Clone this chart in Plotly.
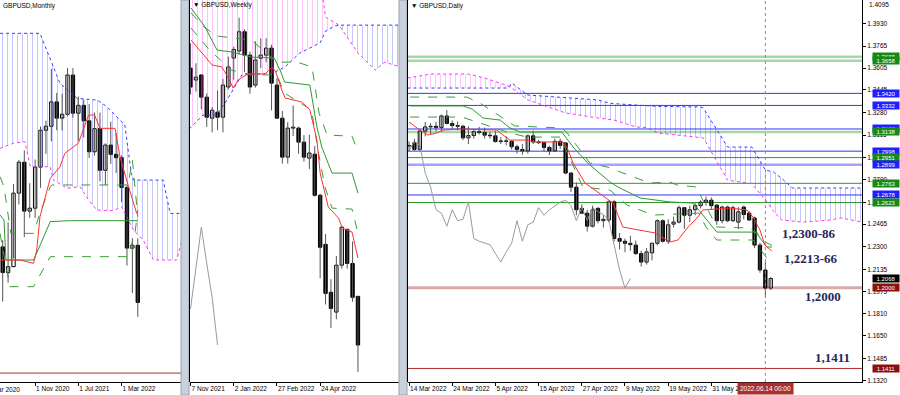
import plotly.graph_objects as go

# ================= DATA =================
# ---- Monthly (bar 0 = May 2020 ... bar 25 = Jun 2022)
m_open  = [1.2585,1.2346,1.2401,1.3085,1.3373,1.2918,1.2945,1.3327,1.3670,1.3707,1.3934,1.3783,1.3819,1.4184,1.3829,1.3902,1.3758,1.3470,1.3685,1.3298,1.3532,1.3446,1.3415,1.3138,1.2574,1.2600]
m_high  = [1.2648,1.2813,1.3169,1.3395,1.3482,1.3177,1.3398,1.3705,1.3759,1.4241,1.4017,1.4009,1.4250,1.4249,1.3984,1.3958,1.3913,1.3834,1.3834,1.3549,1.3749,1.3643,1.3437,1.3167,1.2666,1.2666]
m_low   = [1.2076,1.2252,1.2479,1.2980,1.2676,1.2855,1.2854,1.3135,1.3451,1.3567,1.3670,1.3669,1.3800,1.3787,1.3572,1.3602,1.3412,1.3434,1.3194,1.3160,1.3358,1.3273,1.3000,1.2411,1.2155,1.1934]
m_close = [1.2346,1.2401,1.3085,1.3373,1.2918,1.2945,1.3327,1.3670,1.3707,1.3934,1.3783,1.3819,1.4184,1.3829,1.3902,1.3758,1.3470,1.3685,1.3298,1.3532,1.3446,1.3415,1.3138,1.2574,1.2600,1.2068]
m_tick_pos  = [6, 14, 22]
m_tick_text = ["1 Nov 2020", "1 Jul 2021", "1 Mar 2022"]
m_tenkan_x = [-0.5,3.2,5.7,6.3,6.9,8.8,10.6,11.5,14.0,15.9,17.0,18.0,20.8,21.7,23.3,24.8]
m_tenkan_y = [1.2463,1.2463,1.2432,1.2556,1.2866,1.3223,1.3331,1.3456,1.3549,1.3812,1.3812,1.3688,1.3688,1.3424,1.3145,1.2897]
m_kijun_x = [-0.5,0.24,0.6,5.7,6.3,8.8,12.5,25.0]
m_kijun_y = [1.2882,1.2835,1.2463,1.2463,1.2528,1.2820,1.2829,1.2829]
m_dash1_x = [-0.5,0.24,1.5,5.7,6.9,8.8,9.1,23.2,24.0,25.0]
m_dash1_y = [1.3238,1.3145,1.2711,1.2711,1.2900,1.3145,1.3161,1.3161,1.3393,1.2866]
m_dash2_x = [-0.5,1.3,5.7,8.8,23.2,24.5,25.0]
m_dash2_y = [1.2711,1.2215,1.2215,1.2494,1.2494,1.2720,1.2928]
m_spanA_x = [-0.5,6.9,10.6,13.8,17.5,19.3,20.8,22.6,23.8,24.2,29.7,31.0,33.5]
m_spanA_y = [1.4572,1.4572,1.4107,1.3967,1.3951,1.3889,1.3812,1.3719,1.3270,1.3207,1.3207,1.2897,1.2897]
m_spanB_x = [-0.5,2.0,4.1,5.1,8.8,9.4,11.9,14.3,15.9,17.4,20.5,22.0,24.2,26.0,27.9,32.2,33.5]
m_spanB_y = [1.3502,1.3549,1.3564,1.3331,1.3331,1.3207,1.3130,1.3145,1.3021,1.2928,1.2922,1.2959,1.2742,1.2649,1.2463,1.2463,1.2711]
m_level = [1.1411]

# ---- Weekly (bar 0 = week of 7 Nov 2021 ... bar 31 = week of 12 Jun 2022)
w_open  = [1.3490,1.3429,1.3455,1.3341,1.3233,1.3264,1.3238,1.3393,1.3542,1.3578,1.3677,1.3557,1.3403,1.3541,1.3557,1.3593,1.3403,1.3233,1.3033,1.3182,1.3182,1.3110,1.3028,1.3048,1.2837,1.2585,1.2339,1.2237,1.2478,1.2662,1.2487,1.2318]
w_high  = [1.3617,1.3515,1.3460,1.3360,1.3290,1.3375,1.3435,1.3549,1.3600,1.3749,1.3690,1.3575,1.3628,1.3643,1.3644,1.3610,1.3438,1.3270,1.3212,1.3298,1.3190,1.3146,1.3148,1.3090,1.2845,1.2638,1.2406,1.2525,1.2680,1.2666,1.2600,1.2320]
w_low   = [1.3354,1.3370,1.3278,1.3188,1.3160,1.3172,1.3160,1.3380,1.3430,1.3560,1.3470,1.3358,1.3390,1.3490,1.3520,1.3273,1.3230,1.3000,1.3000,1.3141,1.3050,1.3010,1.2972,1.2830,1.2411,1.2276,1.2155,1.2200,1.2460,1.2460,1.2290,1.1930]
w_close = [1.3393,1.3444,1.3341,1.3238,1.3274,1.3238,1.3403,1.3496,1.3586,1.3677,1.3557,1.3393,1.3532,1.3557,1.3593,1.3413,1.3233,1.3033,1.3182,1.3187,1.3110,1.3033,1.3054,1.2837,1.2570,1.2333,1.2256,1.2478,1.2673,1.2487,1.2313,1.2068]
w_tick_pos  = [0, 8, 16, 24]
w_tick_text = ["7 Nov 2021", "2 Jan 2022", "27 Feb 2022", "24 Apr 2022"]
w_tenkan_x = [0.1,4.0,5.8,6.9,7.9,8.8,10.6,13.8,15.1,15.8,16.9,17.5,20.6,22.1,23.4,24.0,25.5,27.4,28.1,29.9,31.0]
w_tenkan_y = [1.3634,1.3506,1.3496,1.3444,1.3388,1.3429,1.3460,1.3460,1.3496,1.3470,1.3378,1.3337,1.3316,1.3275,1.3121,1.2951,1.2777,1.2720,1.2669,1.2648,1.2515]
w_kijun_x = [0.1,2.7,4.9,7.6,11.3,15.5,16.8,17.4,22.1,23.4,24.3,26.2,29.9,31.0]
w_kijun_y = [1.3799,1.3701,1.3583,1.3573,1.3547,1.3542,1.3465,1.3419,1.3403,1.3188,1.3085,1.2951,1.2951,1.2848]
w_dash1_x = [0.1,2.7,4.9,11.3,15.9,19.7,22.5,23.8,25.3,29.9,31.0]
w_dash1_y = [1.3773,1.3696,1.3655,1.3634,1.3521,1.3521,1.3496,1.3259,1.3146,1.3141,1.3059]
w_dash2_x = [0.1,3.5,7.6,11.3,16.0,17.4,22.4,23.6,24.9,26.2,29.9,31.0]
w_dash2_y = [1.3696,1.3583,1.3480,1.3455,1.3455,1.3362,1.3275,1.3069,1.2879,1.2771,1.2766,1.2643]
w_spanA_x = [-1,2.3,4.8,6.4,9.5,15.3,17.5,19.7,20.2,24.0,25.0,26.6,27.5,31.0,34.2,36.0,38.8]
w_spanA_y = [1.3156,1.3249,1.3249,1.3310,1.3455,1.3465,1.3496,1.3557,1.3567,1.3620,1.3680,1.3705,1.3711,1.3711,1.3711,1.3711,1.3711]
w_spanB_x = [-1,2.3,4.8,6.4,9.5,15.3,17.5,19.7,20.2,24.0,25.0,26.6,27.5,31.0,34.2,36.0,38.8]
w_spanB_y = [1.3950,1.3950,1.3950,1.3950,1.3950,1.3950,1.3950,1.3950,1.3950,1.3950,1.3752,1.3725,1.3711,1.3567,1.3480,1.3521,1.3496]
w_cross = 27.5

# ---- Daily (bar 0 = 14 Mar 2022 ... bar 67 = 15 Jun 2022)
d_open  = [1.3035,1.3060,1.3010,1.3145,1.3175,1.3180,1.3170,1.3255,1.3200,1.3185,1.3180,1.3095,1.3112,1.3140,1.3135,1.3115,1.3110,1.3068,1.3073,1.3070,
           1.3030,1.3010,1.3000,1.3110,1.3065,1.3060,1.3025,1.3000,1.3070,1.3058,1.2838,1.2735,1.2580,1.2545,1.2450,1.2580,1.2490,1.2495,1.2628,1.2360,
           1.2340,1.2325,1.2312,1.2250,1.2188,1.2255,1.2325,1.2490,1.2340,1.2465,1.2480,1.2585,1.2530,1.2570,1.2600,1.2625,1.2640,1.2604,1.2490,1.2590,
           1.2490,1.2480,1.2590,1.2546,1.2510,1.2312,1.2130,1.1998]
d_high  = [1.3070,1.3090,1.3160,1.3212,1.3202,1.3212,1.3264,1.3298,1.3222,1.3215,1.3190,1.3180,1.3160,1.3175,1.3170,1.3140,1.3146,1.3100,1.3107,1.3080,
           1.3045,1.3050,1.3120,1.3148,1.3080,1.3070,1.3038,1.3090,1.3090,1.3065,1.2845,1.2770,1.2610,1.2570,1.2600,1.2590,1.2530,1.2638,1.2640,1.2400,
           1.2360,1.2380,1.2345,1.2270,1.2290,1.2330,1.2500,1.2500,1.2500,1.2520,1.2600,1.2590,1.2600,1.2620,1.2640,1.2666,1.2660,1.2610,1.2600,1.2600,
           1.2600,1.2590,1.2600,1.2560,1.2520,1.2330,1.2188,1.2080]
d_low   = [1.3000,1.3000,1.3000,1.3106,1.3123,1.3141,1.3142,1.3193,1.3160,1.3150,1.3080,1.3050,1.3090,1.3120,1.3090,1.3090,1.3060,1.3050,1.3040,1.3010,
           1.2980,1.2972,1.2980,1.3050,1.3050,1.2995,1.2970,1.2995,1.3015,1.2830,1.2700,1.2530,1.2540,1.2411,1.2440,1.2470,1.2440,1.2480,1.2340,1.2280,
           1.2260,1.2270,1.2240,1.2155,1.2170,1.2200,1.2310,1.2330,1.2320,1.2440,1.2470,1.2430,1.2480,1.2530,1.2580,1.2600,1.2570,1.2460,1.2470,1.2480,
           1.2480,1.2430,1.2500,1.2490,1.2290,1.2110,1.1933,1.1985]
d_close = [1.3040,1.3010,1.3145,1.3175,1.3180,1.3170,1.3255,1.3200,1.3185,1.3180,1.3095,1.3112,1.3140,1.3135,1.3115,1.3110,1.3068,1.3073,1.3070,1.3030,
           1.3010,1.3000,1.3110,1.3065,1.3060,1.3025,1.3000,1.3070,1.3040,1.2838,1.2735,1.2570,1.2545,1.2450,1.2570,1.2490,1.2500,1.2628,1.2360,1.2340,
           1.2325,1.2315,1.2250,1.2188,1.2262,1.2325,1.2490,1.2340,1.2460,1.2480,1.2585,1.2530,1.2570,1.2600,1.2625,1.2640,1.2600,1.2490,1.2590,1.2490,
           1.2585,1.2555,1.2535,1.2495,1.2312,1.2130,1.1998,1.2068]
d_tick_pos  = [0, 8, 16, 24, 32, 40, 48, 56]
d_tick_text = ["14 Mar 2022","24 Mar 2022","5 Apr 2022","15 Apr 2022","27 Apr 2022","9 May 2022","19 May 2022","31 May 2022"]
d_tenkan_x = [0,2.0,3.5,5.2,6.3,9.8,16.3,16.9,18.7,22.0,23.3,28.5,29.3,30.4,32.6,37.2,37.8,39.6,45.6,48.3,49.8,51.7,53.5,54.4,59.4,62.6,63.7,65.0,65.9,67.2]
d_tenkan_y = [1.3211,1.3152,1.3116,1.3131,1.3152,1.3160,1.3152,1.3131,1.3079,1.3079,1.3065,1.3065,1.3021,1.2911,1.2765,1.2641,1.2619,1.2444,1.2400,1.2334,1.2349,1.2444,1.2517,1.2568,1.2583,1.2568,1.2517,1.2422,1.2312,1.2269]
d_kijun_x = [0.2,10.0,11.7,13.7,16.9,18.7,20.6,28.3,30.4,33.1,37.2,38.7,42.8,48.3,52.6,55.2,57.0,64.4,65.0,66.3,67.2]
d_kijun_y = [1.3328,1.3328,1.3306,1.3240,1.3225,1.3167,1.3138,1.3138,1.3028,1.2911,1.2773,1.2736,1.2656,1.2627,1.2619,1.2495,1.2407,1.2407,1.2364,1.2298,1.2298]
d_dash1_x = [0.2,10.7,13.1,18.1,19.6,28.3,29.3,33.5,36.7,44.6,48.3,49.6,53.3,54.4,57.0,63.1,66.3,67.2]
d_dash1_y = [1.3393,1.3393,1.3350,1.3225,1.3182,1.3167,1.3131,1.2911,1.2882,1.2765,1.2773,1.2751,1.2736,1.2641,1.2444,1.2437,1.2327,1.2310]
d_dash2_x = [0.2,9.8,13.1,18.7,21.9,28.0,32.2,37.2,40.4,45.2,53.7,55.0,57.0,63.7,66.3,67.2]
d_dash2_y = [1.3247,1.3247,1.3204,1.3131,1.3101,1.3101,1.2736,1.2714,1.2604,1.2531,1.2546,1.2444,1.2349,1.2349,1.2217,1.2200]
d_spanA_x = [-0.3,18.0,18.6,19.0,22.0,29.0,35.0,37.0,38.0,42.0,44.0,46.0,54.0,54.5,59.0,63.5,66.0,67.5,69.0,71.0,73.0,78.0,80.0,84.0]
d_spanA_y = [1.3459,1.3459,1.3470,1.3496,1.3408,1.3390,1.3372,1.3350,1.3345,1.3335,1.3328,1.3325,1.3321,1.3313,1.3028,1.3028,1.2860,1.2846,1.2800,1.2729,1.2729,1.2729,1.2729,1.2729]
d_spanB_x = [-0.3,4.0,11.0,14.0,18.0,18.6,19.0,22.0,29.0,35.0,37.0,38.0,42.0,44.0,46.0,54.0,54.5,59.0,63.5,66.0,67.5,69.0,71.0,73.0,78.0,80.0,84.0]
d_spanB_y = [1.3532,1.3561,1.3561,1.3532,1.3480,1.3470,1.3459,1.3372,1.3277,1.3240,1.3230,1.3225,1.3175,1.3170,1.3131,1.3102,1.3095,1.2787,1.2760,1.2642,1.2560,1.2495,1.2488,1.2480,1.2495,1.2510,1.2480]
d_cross = 18.6
d_cursor = 66
d_price_ticks = [1.4095,1.3930,1.3765,1.3605,1.3445,1.3280,1.3115,1.2950,1.2790,1.2625,1.2465,1.2300,1.2135,1.1975,1.1810,1.1650,1.1485,1.1320]
d_levels      = [1.3688,1.3658,1.3420,1.3332,1.3160,1.3138,1.2998,1.2951,1.2899,1.2763,1.2678,1.2623,1.2068,1.2000,1.1411]
d_level_kind  = ["g2","g2","b","b","b","g2","b","g","b2","g","b","g","k","r2","r"]
zone_labels = ["1,2300-86", "1,2213-66", "1,2000", "1,1411"]
zone_y      = [1.2400, 1.2211, 1.1933, 1.1494]

# ================= STYLE =================
FONT = "Liberation Sans"
FS = 6.5
line_style = {"g": ("#2e9a2e", 1), "g2": ("#a7d6a7", 2.5), "b": ("#3434ff", 1), "b2": ("#a3a3ff", 2.5),
              "r": ("#b02a2a", 1), "r2": ("#d9aaaa", 3)}
box_color = {"g": "#168a16", "g2": "#168a16", "b": "#1f1fff", "b2": "#1f1fff", "k": "#000000",
             "r": "#8b1111", "r2": "#8b1111"}

fig = go.Figure()

def add_cloud(ax, ay, ax_x, ay_y, bx_x, by_y, cross):
    segs = []
    if cross is None:
        segs.append((ax_x, ay_y, bx_x, by_y, "a"))
    else:
        a1 = [(x, y) for x, y in zip(ax_x, ay_y) if x <= cross]
        b1 = [(x, y) for x, y in zip(bx_x, by_y) if x <= cross]
        a2 = [(x, y) for x, y in zip(ax_x, ay_y) if x >= cross]
        b2 = [(x, y) for x, y in zip(bx_x, by_y) if x >= cross]
        segs.append(([p[0] for p in a1], [p[1] for p in a1], [p[0] for p in b1], [p[1] for p in b1], "b"))
        segs.append(([p[0] for p in a2], [p[1] for p in a2], [p[0] for p in b2], [p[1] for p in b2], "a"))
    for xa, ya, xb, yb, top in segs:
        col = "rgba(60,60,255,0.6)" if top == "a" else "rgba(255,50,255,0.6)"
        fig.add_trace(go.Scatter(x=xa, y=ya, mode="lines", line=dict(width=0), xaxis=ax, yaxis=ay,
                                 hoverinfo="skip", showlegend=False))
        fig.add_trace(go.Scatter(x=xb, y=yb, mode="lines", line=dict(width=0), fill="tonexty",
                                 fillcolor="rgba(0,0,0,0)",
                                 fillpattern=dict(shape="|", fgcolor=col, size=5, solidity=0.2),
                                 xaxis=ax, yaxis=ay, hoverinfo="skip", showlegend=False))
    fig.add_trace(go.Scatter(x=ax_x, y=ay_y, mode="lines", line=dict(color="#3a3aff", width=1, dash="dot"),
                             xaxis=ax, yaxis=ay, hoverinfo="skip", showlegend=False))
    fig.add_trace(go.Scatter(x=bx_x, y=by_y, mode="lines", line=dict(color="#ff30ff", width=1, dash="dot"),
                             xaxis=ax, yaxis=ay, hoverinfo="skip", showlegend=False))

def add_line(ax, ay, xs, ys, color, dash="solid", width=1):
    fig.add_trace(go.Scatter(x=xs, y=ys, mode="lines", line=dict(color=color, width=width, dash=dash),
                             xaxis=ax, yaxis=ay, hoverinfo="skip", showlegend=False))

def add_candles(ax, ay, o, h, l, c, width=0.6):
    n = len(o)
    wx, wy = [], []
    for i in range(n):
        wx += [i, i, None]
        wy += [l[i], h[i], None]
    fig.add_trace(go.Scatter(x=wx, y=wy, mode="lines", line=dict(color="#555555", width=1),
                             xaxis=ax, yaxis=ay, hoverinfo="skip", showlegend=False))
    base = [min(a, b) for a, b in zip(o, c)]
    hgt = [max(abs(b - a), 0.00001) for a, b in zip(o, c)]
    cols = ["#ffffff" if b >= a else "#000000" for a, b in zip(o, c)]
    fig.add_trace(go.Bar(x=list(range(n)), y=hgt, base=base, width=width,
                         marker=dict(color=cols, line=dict(color="#000000", width=1)),
                         xaxis=ax, yaxis=ay, hoverinfo="skip", showlegend=False))

def add_chikou(ax, ay, c, shift=26):
    xs = [i - shift for i in range(len(c))]
    add_line(ax, ay, xs, c, "#9a9a9a")

# ---- Monthly
add_cloud("x", "y", m_spanA_x, m_spanA_y, m_spanB_x, m_spanB_y, None)
add_candles("x", "y", m_open, m_high, m_low, m_close, 0.62)
add_line("x", "y", m_dash1_x, m_dash1_y, "#3c9c3c", "dash")
add_line("x", "y", m_dash2_x, m_dash2_y, "#3c9c3c", "dash")
add_line("x", "y", m_kijun_x, m_kijun_y, "#2e9a2e")
add_line("x", "y", m_tenkan_x, m_tenkan_y, "#ff3030")
add_chikou("x", "y", m_close)

# ---- Weekly
add_cloud("x2", "y2", w_spanA_x, w_spanA_y, w_spanB_x, w_spanB_y, w_cross)
add_candles("x2", "y2", w_open, w_high, w_low, w_close, 0.62)
add_line("x2", "y2", w_dash1_x, w_dash1_y, "#3c9c3c", "dash")
add_line("x2", "y2", w_dash2_x, w_dash2_y, "#3c9c3c", "dash")
add_line("x2", "y2", w_kijun_x, w_kijun_y, "#2e9a2e")
add_line("x2", "y2", w_tenkan_x, w_tenkan_y, "#ff3030")
add_chikou("x2", "y2", w_close)

# ---- Daily
add_cloud("x3", "y3", d_spanA_x, d_spanA_y, d_spanB_x, d_spanB_y, d_cross)
add_chikou("x3", "y3", d_close)
add_candles("x3", "y3", d_open, d_high, d_low, d_close, 0.6)
add_line("x3", "y3", d_dash1_x, d_dash1_y, "#3c9c3c", "dash")
add_line("x3", "y3", d_dash2_x, d_dash2_y, "#3c9c3c", "dash")
add_line("x3", "y3", d_kijun_x, d_kijun_y, "#2e9a2e")
add_line("x3", "y3", d_tenkan_x, d_tenkan_y, "#ff3030")

shapes = []
annotations = []

for v in m_level:
    shapes.append(dict(type="line", xref="x domain", x0=0, x1=1, yref="y", y0=v, y1=v,
                       line=dict(color="#b02a2a", width=1), layer="below"))
for v, k in zip(d_levels, d_level_kind):
    if k in line_style:
        col, w = line_style[k]
        shapes.append(dict(type="line", xref="x3 domain", x0=0, x1=1, yref="y3", y0=v, y1=v,
                           line=dict(color=col, width=w), layer="below"))
    annotations.append(dict(xref="paper", x=872 / 900, xanchor="left", yref="y3", y=v, yanchor="middle",
                            text=f"{v:.4f}", showarrow=False, bgcolor=box_color[k], width=26, height=7,
                            borderpad=0, font=dict(family=FONT, size=6, color="#ffffff")))

shapes.append(dict(type="line", xref="x3", x0=d_cursor, x1=d_cursor, yref="y3 domain", y0=0, y1=1,
                   line=dict(color="#e06a6a", width=1, dash="dot")))

for x0, x1 in [(181, 189), (399, 407)]:
    shapes.append(dict(type="rect", xref="paper", x0=x0 / 900, x1=x1 / 900, yref="paper", y0=-13 / 382, y1=1,
                       fillcolor="#c9d1dd", line=dict(color="#97a1b1", width=1)))
for xp in [189.5, 407.5]:
    shapes.append(dict(type="line", xref="paper", x0=xp / 900, x1=xp / 900, yref="paper", y0=0, y1=1,
                       line=dict(color="#000000", width=1)))

zone_x = [809, 811, 823, 832]
for t, yv, xp in zip(zone_labels, zone_y, zone_x):
    annotations.append(dict(xref="paper", x=xp / 900, xanchor="center", yref="y3", y=yv, yanchor="middle",
                            text=f"<b>{t}</b>", showarrow=False,
                            font=dict(family="Liberation Serif", size=13, color="#27275a")))

annotations.append(dict(xref="paper", x=1 / 900, y=1, yref="paper", xanchor="left", yanchor="top", yshift=0,
                        text="GBPUSD,Monthly", showarrow=False, font=dict(family=FONT, size=FS, color="#000")))
annotations.append(dict(xref="paper", x=191 / 900, y=1, yref="paper", xanchor="left", yanchor="top", yshift=1,
                        text="▼ GBPUSD,Weekly", showarrow=False, font=dict(family=FONT, size=FS, color="#000")))
annotations.append(dict(xref="paper", x=409 / 900, y=1, yref="paper", xanchor="left", yanchor="top", yshift=0,
                        text="▼ GBPUSD,Daily", showarrow=False, font=dict(family=FONT, size=FS, color="#000")))

annotations.append(dict(xref="paper", x=22 / 900, xanchor="right", yref="paper", y=0, yanchor="top", yshift=-2,
                        text="1 Mar 2020", showarrow=False, font=dict(family=FONT, size=FS, color="#000")))
annotations.append(dict(xref="x3", x=d_cursor, xanchor="center", yref="paper", y=0, yanchor="top", yshift=0,
                        text="2022.06.14 00:00", showarrow=False, bgcolor="#a83030", borderpad=2,
                        font=dict(family=FONT, size=FS, color="#ffffff")))
# topmost price label (partly above the frame in the original)
annotations.append(dict(xref="paper", x=867 / 900, xanchor="left", yref="paper", y=1, yanchor="top", yshift=1,
                        text="1.4095", showarrow=False, font=dict(family=FONT, size=FS, color="#000")))

xcommon = dict(showgrid=False, zeroline=False, showline=True, linecolor="#000000", linewidth=1,
               ticks="outside", ticklen=3, tickcolor="#000000", ticklabelposition="outside right",
               tickangle=0, automargin=False,
               tickfont=dict(family=FONT, size=FS, color="#000000"), fixedrange=True)
ycommon = dict(showgrid=False, zeroline=False, showticklabels=False, ticks="", showline=False,
               automargin=False, fixedrange=True)

fig.update_layout(
    width=900, height=395, margin=dict(l=0, r=0, t=0, b=13, autoexpand=False),
    paper_bgcolor="#ffffff", plot_bgcolor="#ffffff", showlegend=False, barmode="overlay",
    xaxis=dict(domain=[0, 181 / 900], range=[-0.5, 33.0], anchor="y",
               tickvals=m_tick_pos, ticktext=m_tick_text, **xcommon),
    yaxis=dict(domain=[0, 1], range=[1.1328, 1.4882], anchor="x", **ycommon),
    xaxis2=dict(domain=[190 / 900, 399 / 900], range=[-0.1, 38.6], anchor="y2",
                tickvals=w_tick_pos, ticktext=w_tick_text, **xcommon),
    yaxis2=dict(domain=[0, 1], range=[1.1878, 1.3840], anchor="x2", **ycommon),
    xaxis3=dict(domain=[408 / 900, 862 / 900], range=[-0.19, 83.9], anchor="y3",
                tickvals=d_tick_pos, ticktext=d_tick_text, **xcommon),
    yaxis3=dict(domain=[0, 1], range=[1.1312, 1.4102], anchor="x3", side="right",
                showgrid=False, zeroline=False, showline=True, linecolor="#000000", linewidth=1,
                ticks="outside", ticklen=3, tickcolor="#000000", automargin=False,
                tickvals=d_price_ticks[1:], ticktext=[f"{v:.4f}" for v in d_price_ticks[1:]],
                tickfont=dict(family=FONT, size=FS, color="#000000"), fixedrange=True),
    shapes=shapes, annotations=annotations,
)

fig.write_html("out.html", config={"displayModeBar": False},
               post_script="document.body.style.margin='0';document.body.style.overflow='hidden';")
